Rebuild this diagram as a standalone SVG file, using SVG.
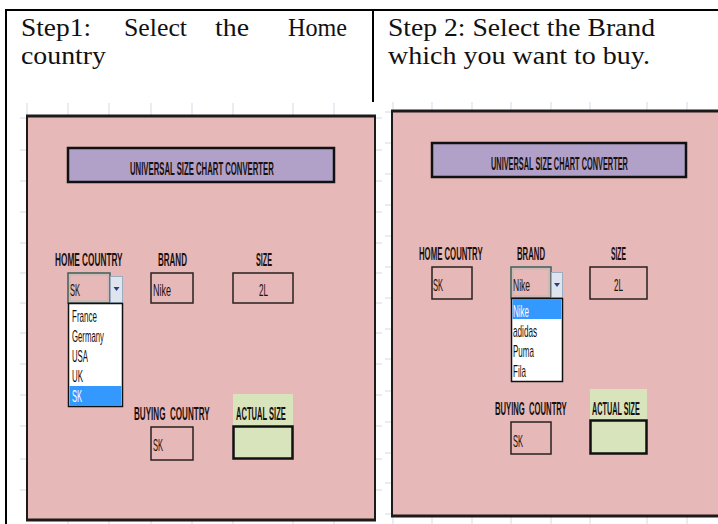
<svg xmlns="http://www.w3.org/2000/svg" width="718" height="524" viewBox="0 0 718 524">
<style>
.hdr{font-family:"Liberation Serif","Times New Roman",serif;font-size:25px;fill:#111}
.lbl{font-family:"Liberation Sans",Arial,sans-serif;font-size:18px;font-weight:bold;fill:#1a1010}
.val{font-family:"Liberation Sans",Arial,sans-serif;font-size:17px;fill:#1a1010}
.itm{font-family:"Liberation Sans",Arial,sans-serif;font-size:16px;fill:#111}
.sel{fill:#ffffff}
.panel{fill:#e6b8b7;stroke:#1e1a1a;stroke-width:2}
.ptop{stroke:#1e1a1a;stroke-width:3}
.title{fill:#b1a0c7;stroke:#111;stroke-width:2.5}
.box{fill:none;stroke:#2a2020;stroke-width:1.5}
.act{fill:#d8e4bc;stroke:#111;stroke-width:2.5}
.actl{fill:#d8e4bc}
.list{fill:#ffffff;stroke:#111;stroke-width:1.5}
.hi{fill:#3399ff}
.btn{fill:#dfe5ee;stroke:#9eacc2;stroke-width:1}
.cur{fill:none;stroke:#3f5f56;stroke-width:1.5}
.tick{stroke:#d3d9e6;stroke-width:1}
.tri{fill:#2b3f80}
</style>

<g id="table">
  <line x1="5" y1="10" x2="718" y2="10" stroke="#000" stroke-width="2"/>
  <line x1="6" y1="9" x2="6" y2="524" stroke="#000" stroke-width="2"/>
  <line x1="373" y1="10" x2="373" y2="102" stroke="#000" stroke-width="2"/>
</g>

<g id="step1-text">
  <text class="hdr" x="21" y="36" textLength="70" lengthAdjust="spacingAndGlyphs">Step1:</text>
  <text class="hdr" x="124" y="36" textLength="63" lengthAdjust="spacingAndGlyphs">Select</text>
  <text class="hdr" x="215" y="36" textLength="34" lengthAdjust="spacingAndGlyphs">the</text>
  <text class="hdr" x="288" y="36" textLength="59" lengthAdjust="spacingAndGlyphs">Home</text>
  <text class="hdr" x="21" y="64" textLength="85" lengthAdjust="spacingAndGlyphs">country</text>
</g>

<g id="step2-text">
  <text class="hdr" x="388" y="36" textLength="267" lengthAdjust="spacingAndGlyphs">Step 2: Select the Brand</text>
  <text class="hdr" x="388" y="64" textLength="262" lengthAdjust="spacingAndGlyphs">which you want to buy.</text>
</g>

<g id="grid">
  <g class="tick">
    <line x1="27" y1="103" x2="27" y2="115"/><line x1="68" y1="103" x2="68" y2="115"/><line x1="109" y1="103" x2="109" y2="115"/><line x1="151" y1="103" x2="151" y2="115"/><line x1="192" y1="103" x2="192" y2="115"/><line x1="233" y1="103" x2="233" y2="115"/><line x1="293" y1="103" x2="293" y2="115"/><line x1="334" y1="103" x2="334" y2="115"/>
    <line x1="68" y1="521" x2="68" y2="524"/><line x1="109" y1="521" x2="109" y2="524"/><line x1="151" y1="521" x2="151" y2="524"/><line x1="192" y1="521" x2="192" y2="524"/><line x1="233" y1="521" x2="233" y2="524"/><line x1="293" y1="521" x2="293" y2="524"/><line x1="334" y1="521" x2="334" y2="524"/>
    <line x1="20" y1="118" x2="27" y2="118"/><line x1="20" y1="150" x2="27" y2="150"/><line x1="20" y1="181" x2="27" y2="181"/><line x1="20" y1="212" x2="27" y2="212"/><line x1="20" y1="243" x2="27" y2="243"/><line x1="20" y1="273" x2="27" y2="273"/><line x1="20" y1="303" x2="27" y2="303"/><line x1="20" y1="333" x2="27" y2="333"/><line x1="20" y1="364" x2="27" y2="364"/><line x1="20" y1="395" x2="27" y2="395"/><line x1="20" y1="426" x2="27" y2="426"/><line x1="20" y1="459" x2="27" y2="459"/><line x1="20" y1="490" x2="27" y2="490"/>
    <line x1="376" y1="118" x2="382" y2="118"/><line x1="376" y1="150" x2="382" y2="150"/><line x1="376" y1="181" x2="382" y2="181"/><line x1="376" y1="212" x2="382" y2="212"/><line x1="376" y1="243" x2="382" y2="243"/><line x1="376" y1="273" x2="382" y2="273"/><line x1="376" y1="303" x2="382" y2="303"/><line x1="376" y1="333" x2="382" y2="333"/><line x1="376" y1="364" x2="382" y2="364"/><line x1="376" y1="395" x2="382" y2="395"/><line x1="376" y1="426" x2="382" y2="426"/><line x1="376" y1="459" x2="382" y2="459"/><line x1="376" y1="490" x2="382" y2="490"/>
    <line x1="393" y1="102" x2="393" y2="110"/><line x1="432" y1="102" x2="432" y2="110"/><line x1="472" y1="102" x2="472" y2="110"/><line x1="511" y1="102" x2="511" y2="110"/><line x1="551" y1="102" x2="551" y2="110"/><line x1="590" y1="102" x2="590" y2="110"/><line x1="647" y1="102" x2="647" y2="110"/><line x1="687" y1="102" x2="687" y2="110"/>
    <line x1="393" y1="517" x2="393" y2="524"/><line x1="432" y1="517" x2="432" y2="524"/><line x1="472" y1="517" x2="472" y2="524"/><line x1="511" y1="517" x2="511" y2="524"/><line x1="551" y1="517" x2="551" y2="524"/><line x1="590" y1="517" x2="590" y2="524"/><line x1="647" y1="517" x2="647" y2="524"/><line x1="687" y1="517" x2="687" y2="524"/>
    <line x1="385" y1="112" x2="392" y2="112"/><line x1="385" y1="143" x2="392" y2="143"/><line x1="385" y1="174" x2="392" y2="174"/><line x1="385" y1="205" x2="392" y2="205"/><line x1="385" y1="236" x2="392" y2="236"/><line x1="385" y1="267" x2="392" y2="267"/><line x1="385" y1="298" x2="392" y2="298"/><line x1="385" y1="329" x2="392" y2="329"/><line x1="385" y1="359" x2="392" y2="359"/><line x1="385" y1="391" x2="392" y2="391"/><line x1="385" y1="422" x2="392" y2="422"/><line x1="385" y1="453" x2="392" y2="453"/><line x1="385" y1="483" x2="392" y2="483"/><line x1="385" y1="514" x2="392" y2="514"/>
  </g>
</g>

<g id="panel-left">
  <rect class="panel" x="27" y="116" width="348" height="404"/>
  <line class="ptop" x1="26" y1="116" x2="376" y2="116"/>
  <line class="ptop" x1="26" y1="520" x2="376" y2="520"/>
  <rect class="title" x="68" y="148" width="266" height="34"/>
  <text class="lbl" transform="translate(130,174.5) scale(0.43,1)">UNIVERSAL SIZE CHART CONVERTER</text>

  <text class="lbl" transform="translate(55,265.5) scale(0.459,1)">HOME COUNTRY</text>
  <text class="lbl" transform="translate(158,265.5) scale(0.446,1)">BRAND</text>
  <text class="lbl" transform="translate(256,265.5) scale(0.40,1)">SIZE</text>

  <rect class="cur" x="68" y="273" width="42" height="30"/>
  <rect x="70" y="275" width="38" height="26" fill="none" stroke="#a9bdb5" stroke-width="0.8"/>
  <text class="val" transform="translate(70,296) scale(0.44,1)">SK</text>
  <rect class="btn" x="110.5" y="276.5" width="12" height="26"/>
  <path class="tri" d="M113.5,287 L119.5,287 L116.5,291 Z"/>

  <rect class="box" x="151" y="273" width="42" height="30"/>
  <text class="val" transform="translate(153,296) scale(0.53,1)">Nike</text>
  <rect class="box" x="233" y="273" width="60" height="30"/>
  <text class="val" transform="translate(259,296) scale(0.476,1)">2L</text>

  <rect class="list" x="68.5" y="303.5" width="54" height="103"/>
  <rect class="hi" x="69.5" y="386" width="52" height="20"/>
  <text class="itm" transform="translate(72,322) scale(0.5,1)">France</text>
  <text class="itm" transform="translate(72,342) scale(0.486,1)">Germany</text>
  <text class="itm" transform="translate(72,362) scale(0.486,1)">USA</text>
  <text class="itm" transform="translate(72,382) scale(0.495,1)">UK</text>
  <text class="itm sel" transform="translate(72,402) scale(0.47,1)">SK</text>

  <text class="lbl" transform="translate(134,419.5) scale(0.45,1)" xml:space="preserve">BUYING  COUNTRY</text>
  <rect class="actl" x="233" y="394" width="60" height="32"/>
  <text class="lbl" transform="translate(236,419.5) scale(0.42,1)">ACTUAL SIZE</text>
  <rect class="box" x="151" y="427" width="42" height="33"/>
  <text class="val" transform="translate(153,451) scale(0.44,1)">SK</text>
  <rect class="act" x="233.5" y="426.5" width="59" height="32"/>
</g>

<g id="panel-right">
  <rect class="panel" x="392" y="111" width="330" height="405"/>
  <line class="ptop" x1="391" y1="111" x2="718" y2="111"/>
  <line class="ptop" x1="391" y1="516" x2="718" y2="516"/>
  <rect class="title" x="432" y="143" width="254" height="34"/>
  <text class="lbl" transform="translate(491,169.5) scale(0.409,1)">UNIVERSAL SIZE CHART CONVERTER</text>

  <text class="lbl" transform="translate(419,259.5) scale(0.432,1)">HOME COUNTRY</text>
  <text class="lbl" transform="translate(517,259.5) scale(0.431,1)">BRAND</text>
  <text class="lbl" transform="translate(611,259.5) scale(0.375,1)">SIZE</text>

  <rect class="box" x="432" y="267" width="40" height="32"/>
  <text class="val" transform="translate(433,291) scale(0.44,1)">SK</text>

  <rect class="cur" x="511" y="267" width="40" height="31"/>
  <rect x="513" y="269" width="36" height="27" fill="none" stroke="#a9bdb5" stroke-width="0.8"/>
  <text class="val" transform="translate(513,291) scale(0.5,1)">Nike</text>
  <rect class="btn" x="551.5" y="272.5" width="11" height="25"/>
  <path class="tri" d="M554,283 L560,283 L557,287 Z"/>

  <rect class="box" x="590" y="267" width="57" height="32"/>
  <text class="val" transform="translate(614,291) scale(0.476,1)">2L</text>

  <rect class="list" x="511.5" y="298.5" width="51" height="83"/>
  <rect class="hi" x="512.5" y="299" width="49" height="20"/>
  <text class="itm sel" transform="translate(513,317) scale(0.5,1)">Nike</text>
  <text class="itm" transform="translate(513,337) scale(0.51,1)">adidas</text>
  <text class="itm" transform="translate(513,357) scale(0.5,1)">Puma</text>
  <text class="itm" transform="translate(513,377) scale(0.5,1)">Fila</text>

  <text class="lbl" transform="translate(495,414.5) scale(0.426,1)" xml:space="preserve">BUYING  COUNTRY</text>
  <rect class="actl" x="590" y="389" width="57" height="31"/>
  <text class="lbl" transform="translate(592,414.5) scale(0.403,1)">ACTUAL SIZE</text>
  <rect class="box" x="511" y="422" width="40" height="32"/>
  <text class="val" transform="translate(513,447) scale(0.44,1)">SK</text>
  <rect class="act" x="590.5" y="420.5" width="56" height="33"/>
</g>
</svg>
